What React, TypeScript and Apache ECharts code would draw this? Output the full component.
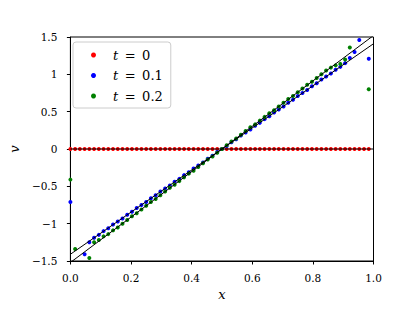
import React, { useEffect, useRef } from "react";
import * as echarts from "echarts";

// grid points x_i = i/64
const xGrid = [
  0, 0.0156, 0.0313, 0.0469, 0.0625, 0.0781, 0.0938, 0.1094, 0.125, 0.1406, 0.1563, 0.1719, 0.1875, 0.2031, 0.2188, 0.2344,
  0.25, 0.2656, 0.2813, 0.2969, 0.3125, 0.3281, 0.3438, 0.3594, 0.375, 0.3906, 0.4063, 0.4219, 0.4375, 0.4531, 0.4688, 0.4844,
  0.5, 0.5156, 0.5313, 0.5469, 0.5625, 0.5781, 0.5938, 0.6094, 0.625, 0.6406, 0.6563, 0.6719, 0.6875, 0.7031, 0.7188, 0.7344,
  0.75, 0.7656, 0.7813, 0.7969, 0.8125, 0.8281, 0.8438, 0.8594, 0.875, 0.8906, 0.9063, 0.9219, 0.9375, 0.9531, 0.9688, 0.9844,
];

const vT0 = [
  0, 0, 0, 0, 0, 0, 0, 0, 0, 0, 0, 0, 0, 0, 0, 0,
  0, 0, 0, 0, 0, 0, 0, 0, 0, 0, 0, 0, 0, 0, 0, 0,
  0, 0, 0, 0, 0, 0, 0, 0, 0, 0, 0, 0, 0, 0, 0, 0,
  0, 0, 0, 0, 0, 0, 0, 0, 0, 0, 0, 0, 0, 0, 0, 0,
];

const vT01 = [
  -0.71, -1.8, -1.62, -1.41, -1.25, -1.19, -1.15, -1.1, -1.06, -1.01, -0.97, -0.93, -0.88, -0.84, -0.79, -0.75,
  -0.71, -0.66, -0.62, -0.57, -0.53, -0.49, -0.44, -0.4, -0.35, -0.31, -0.26, -0.22, -0.18, -0.13, -0.09, -0.04,
  0, 0.04, 0.09, 0.13, 0.18, 0.22, 0.26, 0.31, 0.35, 0.4, 0.44, 0.49, 0.53, 0.57, 0.62, 0.66,
  0.71, 0.75, 0.79, 0.84, 0.88, 0.93, 0.97, 1.01, 1.06, 1.1, 1.15, 1.22, 1.3, 1.46, 1.75, 1.21,
];

const vT02 = [
  -0.41, -1.34, -1.85, -1.65, -1.46, -1.25, -1.22, -1.17, -1.14, -1.09, -1.05, -1.0, -0.95, -0.9, -0.86, -0.81,
  -0.76, -0.71, -0.67, -0.62, -0.57, -0.52, -0.48, -0.43, -0.38, -0.33, -0.29, -0.24, -0.19, -0.14, -0.1, -0.05,
  0, 0.05, 0.1, 0.14, 0.19, 0.24, 0.29, 0.33, 0.38, 0.43, 0.48, 0.52, 0.57, 0.62, 0.67, 0.71,
  0.76, 0.81, 0.86, 0.9, 0.95, 1.0, 1.05, 1.09, 1.12, 1.14, 1.2, 1.36, 1.62, 1.78, 1.9, 0.8,
];

// exact solution lines: endpoints at x = 0 and x = 1
const lineX = [0, 1];
const exactT0 = [0, 0];
const exactT01 = [-1.41, 1.41];
const exactT02 = [-1.52, 1.52];

const seriesNames = ["t = 0", "t = 0.1", "t = 0.2"];
const seriesTValues = ["0", "0.1", "0.2"];

const xTicks = [0, 0.2, 0.4, 0.6, 0.8, 1.0];
const xTickLabels = ["0.0", "0.2", "0.4", "0.6", "0.8", "1.0"];
const yTicks = [-1.5, -1, -0.5, 0, 0.5, 1, 1.5];
const yTickLabels = ["\u22121.5", "\u22121", "\u22120.5", "0", "0.5", "1", "1.5"];

const FONT = "'DejaVu Serif', 'Liberation Serif', serif";

function lookup(ticks: number[], labels: string[], v: number) {
  for (let i = 0; i < ticks.length; i++) if (Math.abs(ticks[i] - v) < 1e-6) return labels[i];
  return "";
}

export default function App() {
  const ref = useRef<HTMLDivElement>(null);
  useEffect(() => {
    if (!ref.current) return;
    const chart = echarts.init(ref.current, undefined, { renderer: "svg" });
    const pts = (vs: number[]) => xGrid.map((x, i) => [x, vs[i]]);
    const ln = (vs: number[]) => lineX.map((x, i) => [x, vs[i]]);
    const colors = ["#ff0000", "#0000ff", "#008000"];
    const scatterData = [vT0, vT01, vT02];
    const lineData = [exactT0, exactT01, exactT02];
    const series: any[] = [];
    lineData.forEach((d, k) => {
      series.push({
        type: "line",
        name: "exact" + k,
        data: ln(d),
        showSymbol: false,
        symbol: "none",
        clip: true,
        lineStyle: { color: "#000", width: 1 },
        z: 3,
      });
    });
    scatterData.forEach((d, k) => {
      series.push({
        type: "scatter",
        name: seriesNames[k],
        data: pts(d),
        symbol: "circle",
        symbolSize: 4,
        clip: true,
        itemStyle: { color: colors[k], opacity: 1 },
        z: 2,
      });
    });
    chart.setOption({
      animation: false,
      grid: {
        left: 66,
        right: 41.5,
        top: 37,
        bottom: 50,
        show: true,
        borderColor: "#000",
        borderWidth: 1,
        backgroundColor: "transparent",
      },
      legend: {
        data: seriesNames.map((n) => ({ name: n, icon: "circle", itemStyle: { opacity: 1 } })),
        orient: "vertical",
        left: 73,
        top: 42,
        itemWidth: 5,
        itemHeight: 5,
        itemGap: 4.5,
        padding: [5, 8, 4, 18],
        backgroundColor: "#fff",
        borderColor: "#cccccc",
        borderWidth: 1,
        borderRadius: 3,
        formatter: (name: string) => {
          const idx = seriesNames.indexOf(name);
          return "{i|t}\u2002=\u2002" + seriesTValues[idx];
        },
        textStyle: {
          fontFamily: FONT,
          fontSize: 13,
          color: "#000",
          lineHeight: 16,
          padding: [0, 0, 0, 12],
          rich: {
            i: { fontFamily: FONT, fontStyle: "italic", fontSize: 13, color: "#000", lineHeight: 16 },
          },
        },
      },
      xAxis: {
        type: "value",
        min: 0,
        max: 1,
        interval: 0.2,
        name: "x",
        nameLocation: "middle",
        nameGap: 26,
        nameTextStyle: { fontFamily: FONT, fontStyle: "italic", fontSize: 13, color: "#000" },
        axisLine: { show: true, onZero: false, lineStyle: { color: "#000", width: 1 } },
        axisTick: { show: true, inside: false, length: 3.5, lineStyle: { color: "#000" } },
        axisLabel: {
          fontFamily: FONT,
          fontSize: 10.5,
          color: "#000",
          margin: 11,
          formatter: (v: number) => lookup(xTicks, xTickLabels, v),
        },
        splitLine: { show: false },
      },
      yAxis: {
        type: "value",
        min: -1.5,
        max: 1.5,
        interval: 0.5,
        name: "v",
        nameLocation: "middle",
        nameRotate: 90,
        nameGap: 38,
        nameTextStyle: { fontFamily: FONT, fontStyle: "italic", fontSize: 13, color: "#000" },
        axisLine: { show: true, onZero: false, lineStyle: { color: "#000", width: 1 } },
        axisTick: { show: true, inside: false, length: 3.5, lineStyle: { color: "#000" } },
        axisLabel: {
          fontFamily: FONT,
          fontSize: 10.5,
          color: "#000",
          margin: 13,
          formatter: (v: number) => lookup(yTicks, yTickLabels, v),
        },
        splitLine: { show: false },
      },
      series,
    });
    return () => chart.dispose();
  }, []);
  return (
    <div
      ref={ref}
      style={{ position: "fixed", left: 0, top: 0, width: 415, height: 311, background: "#fff" }}
    />
  );
}
